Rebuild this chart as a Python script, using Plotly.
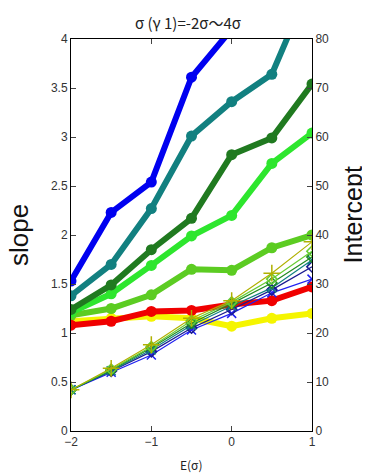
import plotly.graph_objects as go

x_vals = [-2, -1.5, -1, -0.5, 0, 0.5, 1]

# slope series (left axis), thick lines with circles
slope_blue = [1.53, 2.23, 2.54, 3.61, 4.10, 4.60, 5.00]
slope_teal = [1.38, 1.70, 2.27, 3.01, 3.36, 3.64, 4.60]
slope_dkgreen = [1.24, 1.49, 1.85, 2.17, 2.82, 2.99, 3.54]
slope_green = [1.21, 1.40, 1.69, 1.99, 2.20, 2.73, 3.04]
slope_ltgreen = [1.18, 1.25, 1.39, 1.65, 1.64, 1.87, 2.00]
slope_yellow = [1.12, 1.15, 1.17, 1.15, 1.07, 1.15, 1.20]
slope_red = [1.08, 1.12, 1.22, 1.23, 1.29, 1.33, 1.47]

# intercept series (right axis), thin lines with markers
int_olive = [8.4, 12.8, 17.6, 23.0, 26.6, 32.2, 38.6]
int_ltgreen = [8.4, 12.6, 17.2, 22.5, 26.3, 31.0, 36.7]
int_green = [8.4, 12.4, 17.0, 22.0, 26.0, 30.2, 35.5]
int_teal = [8.4, 12.3, 16.6, 21.6, 25.5, 29.2, 34.9]
int_navy = [8.4, 12.2, 16.2, 21.0, 24.8, 28.8, 33.5]
int_blue = [8.4, 12.0, 15.5, 20.6, 24.0, 28.2, 31.0]

x_ticks = [-2, -1, 0, 1]
y_ticks = [0, 0.5, 1, 1.5, 2, 2.5, 3, 3.5, 4]
y2_ticks = [0, 10, 20, 30, 40, 50, 60, 70, 80]

title_text = "σ (γ 1)=-2σ～4σ"

fig = go.Figure()

thick = [
    (slope_yellow, "#F5F500"),
    (slope_ltgreen, "#5CCC22"),
    (slope_green, "#2EE62E"),
    (slope_dkgreen, "#207A20"),
    (slope_teal, "#128080"),
    (slope_blue, "#0000F0"),
    (slope_red, "#F00000"),
]
for ys, c in thick:
    fig.add_trace(go.Scatter(x=x_vals, y=ys, mode="lines+markers",
                             line=dict(color=c, width=6),
                             marker=dict(color=c, size=11, symbol="circle"),
                             showlegend=False))

thin = [
    (int_blue, "#2020F0", "x-thin-open", 9),
    (int_navy, "#1A1A90", "diamond-open", 8),
    (int_teal, "#128080", "x-thin-open", 9),
    (int_green, "#228B22", "diamond-open", 8),
    (int_ltgreen, "#66CC33", "diamond-open", 8),
    (int_olive, "#B0B000", "cross-thin-open", 12),
]
for ys, c, sym, sz in thin:
    fig.add_trace(go.Scatter(x=x_vals, y=ys, mode="lines+markers", yaxis="y2",
                             line=dict(color=c, width=1.2),
                             marker=dict(color=c, size=sz, symbol=sym,
                                         line=dict(color=c, width=1.5)),
                             showlegend=False))

tickfont = dict(family="Liberation Sans, Arial, sans-serif", size=12, color="#333333")

fig.update_layout(
    width=370, height=474,
    margin=dict(l=63, r=66, t=31, b=51),
    paper_bgcolor="white", plot_bgcolor="white",
    xaxis=dict(range=[-2, 1], tickvals=x_ticks, ticks="inside", ticklen=5,
               showline=True, linecolor="black", linewidth=1, mirror="ticks",
               showgrid=False, zeroline=False, tickfont=tickfont),
    yaxis=dict(range=[0, 4], tickvals=y_ticks, ticks="inside", ticklen=5,
               showline=True, linecolor="black", linewidth=1,
               showgrid=False, zeroline=False, tickfont=tickfont),
    yaxis2=dict(range=[0, 80], tickvals=y2_ticks, ticks="inside", ticklen=5,
                overlaying="y", side="right",
                showline=True, linecolor="black", linewidth=1,
                showgrid=False, zeroline=False, tickfont=tickfont),
    annotations=[
        dict(text=title_text, x=0.5, xref="paper", y=1, yref="paper",
             xanchor="center", yanchor="middle", yshift=17, xshift=-4, showarrow=False,
             font=dict(family="Noto Sans CJK JP", size=15, color="#222222")),
        dict(text="E(σ)", x=0.5, xref="paper", y=0, yref="paper",
             xanchor="center", yanchor="middle", yshift=-33, showarrow=False,
             font=dict(family="Noto Sans CJK JP", size=12, color="#222222")),
        dict(text="slope", x=0, xref="paper", xshift=-52, y=0.5, yref="paper",
             xanchor="center", yanchor="middle", textangle=-90, showarrow=False,
             borderpad=0,
             font=dict(family="Liberation Sans, Arial, sans-serif", size=26, color="#111111")),
        dict(text="Intercept", x=1, xref="paper", xshift=41, y=0.55, yref="paper",
             xanchor="center", yanchor="middle", textangle=-90, showarrow=False,
             borderpad=0,
             font=dict(family="Liberation Sans, Arial, sans-serif", size=25, color="#111111")),
    ],
)

fig.write_html("out.html")
